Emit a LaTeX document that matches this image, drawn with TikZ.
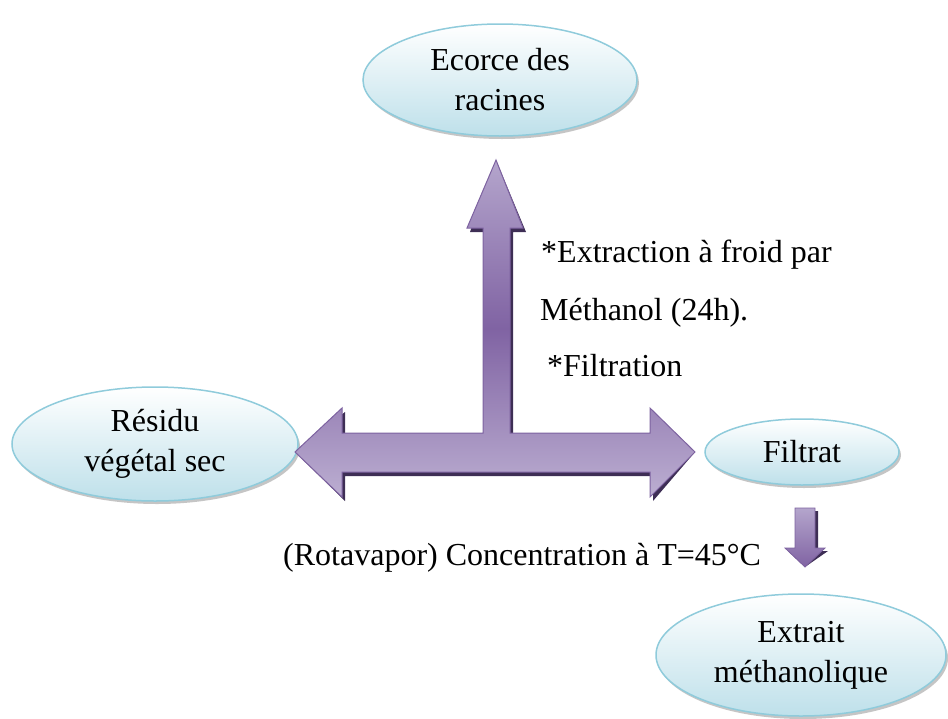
\documentclass[tikz,border=0pt]{standalone}
\usepackage{fontspec}
\setmainfont{Liberation Serif}
\usepackage{tikz}
\usetikzlibrary{shapes.geometric,shadows}

\definecolor{bulleborder}{HTML}{8FCBDB}
\definecolor{bullefond}{HTML}{BEE0EA}
\definecolor{flecheclair}{HTML}{B4A5CC}
\definecolor{flechefonce}{HTML}{8063A3}
\definecolor{flechebord}{HTML}{7D62A0}
\definecolor{flecheombre}{HTML}{3E2E55}

\begin{document}
\begin{tikzpicture}
            [x=1pt,y=-1pt,
             bulle/.style={ellipse,draw=bulleborder,line width=1.5pt,
               top color=white,bottom color=bullefond,inner sep=0pt,
               align=center,font=\fontsize{32}{40}\selectfont,
               drop shadow={shadow xshift=2pt,shadow yshift=-3pt,fill=black!45}},
             etiquette/.style={anchor=base west,inner sep=0pt,font=\fontsize{32}{38}\selectfont}]
            \useasboundingbox (0,0) rectangle (948,718);

            % ellipses
            \node[bulle,minimum width=274pt,minimum height=112pt] (ecorce) at (500,80) {Ecorce des\\racines};
            \node[bulle,minimum width=286pt,minimum height=114pt] (residu) at (155,444) {Résidu\\végétal sec};
            \node[bulle,minimum width=194pt,minimum height=66pt] (filtrat) at (802,452) {Filtrat};
            \node[bulle,minimum width=290pt,minimum height=122pt] (extrait) at (801,655) {Extrait\\méthanolique};

            % fleche en T
            \coordinate (pointe) at (496,160);
            \coordinate (gauche) at (295,452);
            \coordinate (droite) at (695,452);
            \fill[flecheombre,shift={(3,4)}]
                (pointe) -- (523,228) -- (510,228) -- (510,433) -- (650,433) -- (650,408)
                -- (droite) -- (650,497) -- (650,472) -- (342,472) -- (342,497)
                -- (gauche) -- (342,408) -- (342,433) -- (483,433) -- (483,228) -- (467,228) -- cycle;
            \draw[flechebord,line width=1pt,top color=flecheclair,bottom color=flecheclair!90!white,
                  middle color=flechefonce]
                (pointe) -- (523,228) -- (510,228) -- (510,433) -- (650,433) -- (650,408)
                -- (droite) -- (650,497) -- (650,472) -- (342,472) -- (342,497)
                -- (gauche) -- (342,408) -- (342,433) -- (483,433) -- (483,228) -- (467,228) -- cycle;

            % petite fleche vers le bas
            \coordinate (bas) at (805,567);
            \fill[flecheombre,shift={(3,3)}]
                (795,508) -- (815,508) -- (815,548) -- (825,548) -- (bas) -- (785,548) -- (795,548) -- cycle;
            \draw[flechebord,line width=0.8pt,top color=flecheclair,bottom color=flechefonce]
                (795,508) -- (815,508) -- (815,548) -- (825,548) -- (bas) -- (785,548) -- (795,548) -- cycle;

            % textes
            \node[etiquette] (extraction) at (541,262) {*Extraction à froid par};
            \node[etiquette] (methanol) at (540,320) {Méthanol (24h).};
            \node[etiquette] (filtration) at (547,376) {*Filtration};
            \node[etiquette] (concentration) at (283,565) {(Rotavapor) Concentration à T=45°C};
        \end{tikzpicture}
\end{document}
